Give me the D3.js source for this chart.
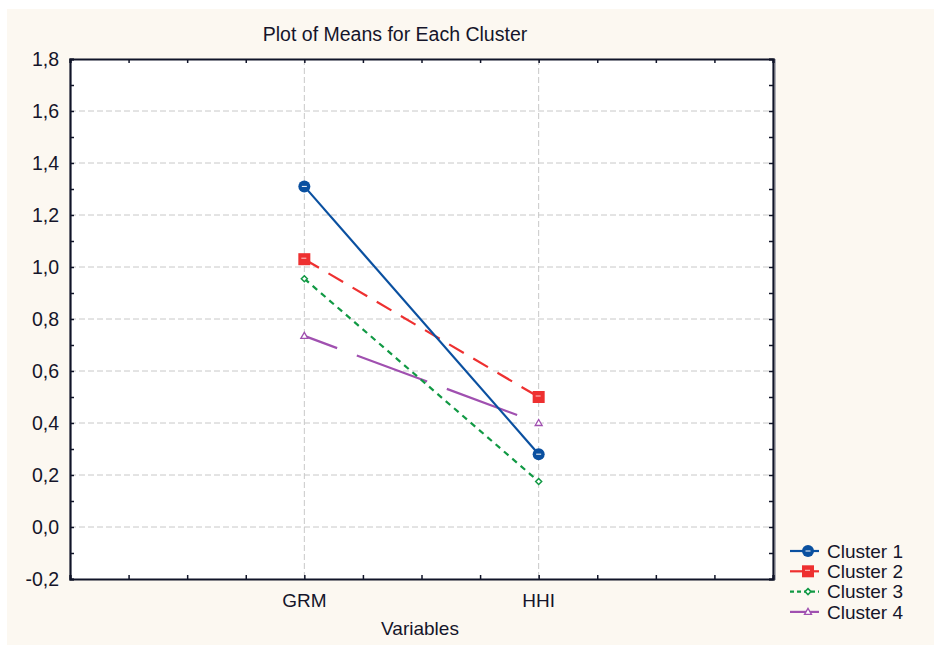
<!DOCTYPE html>
<html>
<head>
<meta charset="utf-8">
<script src="https://cdn.jsdelivr.net/npm/d3@7"></script>
<style>
  body { margin: 0; background: #ffffff; }
  svg { display: block; font-family: "Liberation Sans", Arial, sans-serif; }
</style>
</head>
<body>
<svg id="svg" width="934" height="645"></svg>
<script>
// data
var variables = ["GRM", "HHI"];
var clusters = ["Cluster 1", "Cluster 2", "Cluster 3", "Cluster 4"];
var cluster1 = [1.31, 0.28];
var cluster2 = [1.03, 0.50];
var cluster3 = [0.955, 0.175];
var cluster4 = [0.735, 0.40];
var yTicks = [-0.2, 0, 0.2, 0.4, 0.6, 0.8, 1.0, 1.2, 1.4, 1.6, 1.8];

var seriesValues = [cluster1, cluster2, cluster3, cluster4];
var colors = ["#0a50a0", "#ee3030", "#119944", "#a050b0"];
var dashes = [null, "17,11", "6,5", "75,21"];
var dashOffsets = [0, 0, 0, 40];
var markers = ["circle", "square", "diamond", "triangle"];

var svg = d3.select("#svg");
var padding = {top: 59, right: 161, bottom: 66, left: 70};
var W = 934, H = 645;
var chartArea = {width: W - padding.left - padding.right, height: H - padding.top - padding.bottom};
var txtColor = "#15152a";

// cream background
svg.append("rect").attr("x", 7).attr("y", 9).attr("width", W - 7).attr("height", H - 9).attr("fill", "#fcf8f1");

var xScale = d3.scaleLinear().domain([0, 3]).range([0, chartArea.width]);
var yScale = d3.scaleLinear().domain([-0.2, 1.8]).range([chartArea.height, 0]);
var fmt = function(d){ return d3.format(".1f")(d).replace(".", ",").replace("\u2212", "-"); };

var g = svg.append("g").attr("transform", "translate(" + padding.left + "," + padding.top + ")");

g.append("rect").attr("width", chartArea.width).attr("height", chartArea.height).attr("fill", "#ffffff");

// grid
g.selectAll("line.hgrid").data(yTicks.slice(1, -1)).enter().append("line")
    .attr("x1", 0).attr("x2", chartArea.width)
    .attr("y1", function(d){ return yScale(d); }).attr("y2", function(d){ return yScale(d); })
    .attr("stroke", "#c8c8c8").attr("stroke-dasharray", "6,3");
g.selectAll("line.vgrid").data(variables).enter().append("line")
    .attr("x1", function(d, i){ return xScale(i + 1); }).attr("x2", function(d, i){ return xScale(i + 1); })
    .attr("y1", 0).attr("y2", chartArea.height)
    .attr("stroke", "#c8c8c8").attr("stroke-dasharray", "6,3");

// axes
var minorY = d3.range(-0.2, 1.81, 0.1);
var minorX = d3.range(0, 3.01, 0.25);
g.append("g").attr("transform", "translate(0," + chartArea.height + ")")
    .call(d3.axisBottom(xScale).tickValues(minorX).tickSize(-4).tickFormat(""));
g.append("g")
    .call(d3.axisTop(xScale).tickValues(minorX).tickSize(-4).tickFormat(""));
g.append("g")
    .call(d3.axisLeft(yScale).tickValues(minorY).tickSize(-4).tickFormat(""));
g.append("g").attr("transform", "translate(" + chartArea.width + ",0)")
    .call(d3.axisRight(yScale).tickValues(minorY).tickSize(-4).tickFormat(""));
g.selectAll(".domain").attr("stroke", "#101428").attr("stroke-width", 2.2);
g.selectAll(".tick line").attr("stroke", "#101428").attr("stroke-width", 1.5);

// y labels
g.selectAll("text.ylab").data(yTicks).enter().append("text")
    .attr("x", -11).attr("y", function(d){ return yScale(d); }).attr("dy", "0.35em")
    .attr("text-anchor", "end").attr("font-size", 19.5).attr("fill", txtColor)
    .text(fmt);
// x labels
g.selectAll("text.xlab").data(variables).enter().append("text")
    .attr("x", function(d, i){ return xScale(i + 1); }).attr("y", chartArea.height + 28)
    .attr("text-anchor", "middle").attr("font-size", 19).attr("fill", txtColor)
    .text(function(d){ return d; });

// shadow line on right of frame
svg.append("line").attr("x1", padding.left + chartArea.width + 2.5).attr("x2", padding.left + chartArea.width + 2.5)
    .attr("y1", padding.top).attr("y2", padding.top + chartArea.height + 1).attr("stroke", "#b0b0b8").attr("stroke-width", 1);

// titles
svg.append("text").attr("x", 395).attr("y", 41).attr("text-anchor", "middle")
    .attr("font-size", 19.5).attr("fill", txtColor).text("Plot of Means for Each Cluster");
svg.append("text").attr("x", 420).attr("y", 635).attr("text-anchor", "middle")
    .attr("font-size", 19).attr("fill", txtColor).text("Variables");

function drawMarker(sel, type, color, x, y) {
    if (type === "circle") {
        sel.append("circle").attr("cx", x).attr("cy", y).attr("r", 6).attr("fill", color);
        sel.append("line").attr("x1", x - 2.5).attr("x2", x + 2.5).attr("y1", y).attr("y2", y).attr("stroke", "#ffffff").attr("stroke-width", 1);
    } else if (type === "square") {
        sel.append("rect").attr("x", x - 6).attr("y", y - 6).attr("width", 12).attr("height", 12).attr("fill", color);
        sel.append("line").attr("x1", x - 3).attr("x2", x + 2).attr("y1", y - 1).attr("y2", y - 1).attr("stroke", "#ffcccc").attr("stroke-width", 1);
    } else if (type === "diamond") {
        sel.append("path").attr("d", "M" + x + "," + (y - 3) + "L" + (x + 3) + "," + y + "L" + x + "," + (y + 3) + "L" + (x - 3) + "," + y + "Z")
            .attr("fill", "#ffffff").attr("stroke", color).attr("stroke-width", 1.5);
    } else {
        sel.append("path").attr("d", "M" + x + "," + (y - 3.5) + "L" + (x + 3.5) + "," + (y + 2.5) + "L" + (x - 3.5) + "," + (y + 2.5) + "Z")
            .attr("fill", "#ffffff").attr("stroke", color).attr("stroke-width", 1.3);
    }
}

// series lines
var line = d3.line().x(function(d, i){ return xScale(i + 1); }).y(function(d){ return yScale(d); });
var order = [3, 2, 1, 0];
order.forEach(function(k) {
    var sg = g.append("g");
    sg.append("path").datum(seriesValues[k]).attr("d", line)
        .attr("fill", "none").attr("stroke", colors[k]).attr("stroke-width", 2.2)
        .attr("stroke-dasharray", dashes[k]).attr("stroke-dashoffset", dashOffsets[k]);
    seriesValues[k].forEach(function(v, i) {
        drawMarker(sg, markers[k], colors[k], xScale(i + 1), yScale(v));
    });
});

// legend
var lg = svg.append("g").attr("transform", "translate(790,551)");
clusters.forEach(function(c, k) {
    var y = k * 20.3;
    lg.append("line").attr("x1", 0).attr("x2", 29).attr("y1", y).attr("y2", y)
        .attr("stroke", colors[k]).attr("stroke-width", 2.2)
        .attr("stroke-dasharray", k === 2 ? "4,3" : null);
    drawMarker(lg, markers[k], colors[k], 18, y);
    lg.append("text").attr("x", 37).attr("y", y).attr("dy", "0.35em")
        .attr("font-size", 19).attr("fill", txtColor).text(c);
});
</script>
</body>
</html>
